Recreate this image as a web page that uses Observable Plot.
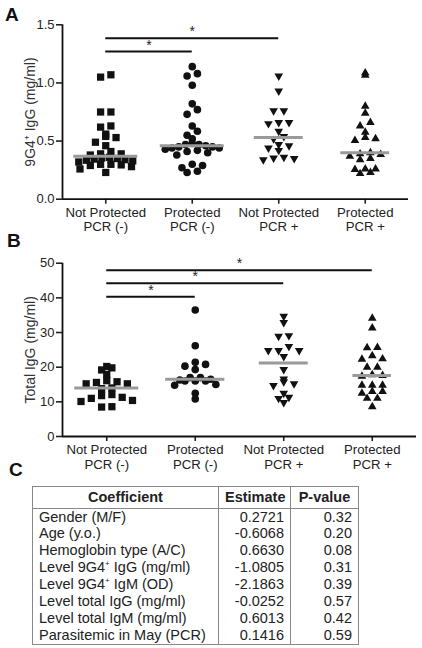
<!DOCTYPE html>
<html><head><meta charset="utf-8">
<script src="https://cdn.jsdelivr.net/npm/d3@7"></script>
<script src="https://cdn.jsdelivr.net/npm/@observablehq/plot@0.6"></script>
<style>
body{margin:0;width:422px;height:648px;position:relative;background:#fff;font-family:"Liberation Sans",Arial,sans-serif;overflow:hidden}
.plabel{position:absolute;font-weight:bold;font-size:19px;color:#111;line-height:1;z-index:5}
#chartA{position:absolute;left:0;top:0}
#chartB{position:absolute;left:0;top:240px}
table{position:absolute;left:32px;top:486px;border-collapse:collapse;font-size:14.5px;color:#222;table-layout:fixed;width:326px;border:1px solid #888}
td,th{border-left:1px solid #888;border-right:1px solid #888;padding:0 6px;height:16.9px;line-height:16.9px;white-space:nowrap}
th{border-bottom:1px solid #888;height:20.5px;line-height:20.5px;text-align:center}
td.num{text-align:right}
sup{font-size:8px;line-height:0;vertical-align:6px}
</style></head>
<body>
<div id="chartA"></div>
<div id="chartB"></div>
<div id="tbl"></div>
<div class="plabel" style="left:5px;top:5px">A</div>
<div class="plabel" style="left:7px;top:231px">B</div>
<div class="plabel" style="left:9px;top:460px">C</div>
<script>
// ---------- data ----------
const categories = ["Not Protected\nPCR (-)", "Protected\nPCR (-)", "Not Protected\nPCR +", "Protected\nPCR +"];

// Panel A: 9G4+ IgG (mg/ml)
const a_notProtPcrNeg = [1.07, 1.05, 0.75, 0.75, 0.63, 0.62, 0.56, 0.54, 0.53, 0.49, 0.46, 0.41, 0.39, 0.39, 0.38, 0.36, 0.355, 0.35, 0.345, 0.34, 0.335, 0.33, 0.32, 0.30, 0.30, 0.295, 0.29, 0.28, 0.26, 0.23];
const a_protPcrNeg = [1.14, 1.08, 1.06, 0.98, 0.82, 0.77, 0.73, 0.63, 0.585, 0.55, 0.52, 0.48, 0.47, 0.47, 0.46, 0.45, 0.45, 0.44, 0.44, 0.43, 0.42, 0.41, 0.40, 0.38, 0.30, 0.29, 0.27, 0.24, 0.23];
const a_notProtPcrPos = [1.06, 0.93, 0.76, 0.76, 0.66, 0.66, 0.65, 0.585, 0.54, 0.52, 0.47, 0.46, 0.44, 0.42, 0.36, 0.355, 0.35, 0.34];
const a_protPcrPos = [1.085, 1.065, 0.80, 0.74, 0.66, 0.63, 0.575, 0.53, 0.52, 0.505, 0.40, 0.39, 0.385, 0.37, 0.35, 0.34, 0.26, 0.26, 0.255, 0.23, 0.22];
const a_yTicks = [0, 0.5, 1.0, 1.5];
const a_sig = [{from: 0, to: 1, level: 1.27}, {from: 0, to: 2, level: 1.385}];

// Panel B: Total IgG (mg/ml)
const b_notProtPcrNeg = [20.2, 19.8, 19.2, 17.9, 16.1, 15.8, 15.6, 15.2, 15.2, 14.0, 13.8, 12.1, 11.8, 11.3, 11.0, 10.4, 10.1, 8.6, 8.5];
const b_protPcrNeg = [36.5, 26.2, 21.4, 20.8, 20.3, 19.3, 17.0, 17.0, 16.5, 16.3, 16.0, 16.0, 16.0, 15.0, 14.8, 12.5, 10.8];
const b_notProtPcrPos = [34.7, 32.9, 29.1, 28.9, 26.0, 24.8, 24.8, 24.8, 23.1, 19.3, 16.6, 15.8, 15.2, 14.7, 12.5, 11.3, 11.0, 9.8];
const b_protPcrPos = [34.1, 31.3, 25.7, 25.6, 23.3, 22.4, 22.3, 20.0, 20.0, 17.8, 17.6, 17.4, 14.8, 14.8, 14.8, 13.0, 13.0, 12.5, 11.0, 11.0, 8.6];
const b_yTicks = [0, 10, 20, 30, 40, 50];
const b_sig = [{from: 0, to: 1, level: 40.3}, {from: 0, to: 2, level: 44.2}, {from: 0, to: 3, level: 48.0}];

// Panel C: table
const coefNames = ["Gender (M/F)", "Age (y.o.)", "Hemoglobin type (A/C)", "Level 9G4⁺ IgG (mg/ml)", "Level 9G4⁺ IgM (OD)", "Level total IgG (mg/ml)", "Level total IgM (mg/ml)", "Parasitemic in May (PCR)"];
const estimates = [0.2721, -0.6068, 0.6630, -1.0805, -2.1863, -0.0252, 0.6013, 0.1416];
const pValues = [0.32, 0.20, 0.08, 0.31, 0.39, 0.57, 0.42, 0.59];

// ---------- styles ----------
const sqrt3 = Math.sqrt(3);
const triangleDown = {draw(ctx, size) {
  const y = -Math.sqrt(size / (sqrt3 * 3));
  ctx.moveTo(0, -y * 2); ctx.lineTo(-sqrt3 * y, y); ctx.lineTo(sqrt3 * y, y); ctx.closePath();
}};
const symStyle = [
  {symbol: "square", r: 4.1},
  {symbol: "circle", r: 3.8},
  {symbol: triangleDown, r: 3.2},
  {symbol: "triangle", r: 3.2}
];
const FONT = "Liberation Sans, Arial, sans-serif";

// beeswarm-like layout (GraphPad style rows)
function layout(groups, yMax, innerW, innerH) {
  const pxY = innerH / yMax, pxX = innerW / 4;
  const binH = 7, gap = 10.3, maxSpan = 54;
  const pts = [], meds = [];
  groups.forEach((vals, gi) => {
    const bins = d3.group(vals, v => Math.floor(v * pxY / binH));
    let maxOff = 0;
    for (const [, row] of bins) {
      const s = row.slice().sort(d3.ascending);
      const n = s.length;
      const order = [];
      for (let k = 0; k < n; k++) order.push(k % 2 === 0 ? k / 2 : n - 1 - (k - 1) / 2);
      const step = n > 1 ? Math.min(gap, maxSpan / (n - 1)) : 0;
      s.forEach((v, k) => {
        const off = (order[k] - (n - 1) / 2) * step;
        maxOff = Math.max(maxOff, Math.abs(off));
        pts.push({g: gi, x: gi + off / pxX, y: v});
      });
    }
    const half = Math.min(32, maxOff + 9);
    meds.push({x1: gi - half / pxX, x2: gi + half / pxX, y: d3.median(vals)});
  });
  return {pts, meds};
}

function panel({groups, yMax, yTicks, tickFmt, label, sig, height, mt, mb, mr}) {
  const W = 422, ml = 62;
  const innerW = W - ml - mr, innerH = height - mt - mb;
  const {pts, meds} = layout(groups, yMax, innerW, innerH);
  return Plot.plot({
    width: W, height, marginTop: mt, marginBottom: mb, marginLeft: ml, marginRight: mr,
    style: {fontFamily: FONT, fontSize: "13px", color: "#222", background: "transparent"},
    x: {domain: [-0.5, 3.5]},
    y: {domain: [0, yMax]},
    marks: [
      Plot.axisY({ticks: yTicks, tickFormat: tickFmt, tickSize: 6, tickPadding: 2, strokeWidth: 1.6, fontSize: 13, label: null}),
      Plot.axisX({ticks: [0, 1, 2, 3], tickSize: 5, strokeWidth: 1.6, tickFormat: () => "", label: null}),
      Plot.ruleY([0], {strokeWidth: 1.8, stroke: "#111"}),
      Plot.ruleX([-0.5], {strokeWidth: 1.8, stroke: "#111"}),
      Plot.text([label], {x: () => -0.5, y: () => yMax / 2, textAnchor: "middle", lineAnchor: "middle", rotate: -90, dx: -32, fontSize: 14, fill: "#333", text: d => d}),
      Plot.text(categories, {x: (d, i) => i, y: () => 0, text: d => d, dy: 7, lineAnchor: "top", lineHeight: 1.12, fontSize: 13.2, fill: "#222"}),
      ...groups.map((_, gi) => Plot.dot(pts.filter(p => p.g === gi), {x: "x", y: "y", symbol: symStyle[gi].symbol, r: symStyle[gi].r, fill: "#111", stroke: "none"})),
      Plot.ruleY(meds, {y: "y", x1: "x1", x2: "x2", stroke: "#9a9a9a", strokeWidth: 3}),
      Plot.ruleY(sig, {y: "level", x1: "from", x2: "to", stroke: "#111", strokeWidth: 2}),
      Plot.text(sig, {x: d => (d.from + d.to) / 2, y: "level", text: () => "*", dy: -2, lineAnchor: "bottom", fontSize: 14, fill: "#222"})
    ]
  });
}

document.getElementById("chartA").append(panel({
  groups: [a_notProtPcrNeg, a_protPcrNeg, a_notProtPcrPos, a_protPcrPos],
  yMax: 1.5, yTicks: a_yTicks, tickFmt: d3.format(".1f"), label: "9G4⁺ IgG (mg/ml)",
  sig: a_sig, height: 235, mt: 24.3, mb: 36.3, mr: 14
}));
document.getElementById("chartB").append(panel({
  groups: [b_notProtPcrNeg, b_protPcrNeg, b_notProtPcrPos, b_protPcrPos],
  yMax: 50, yTicks: b_yTicks, tickFmt: d3.format("d"), label: "Total IgG (mg/ml)",
  sig: b_sig, height: 232, mt: 22.7, mb: 36, mr: 6
}));

// table
const table = document.createElement("table");
const cg = document.createElement("colgroup");
[186, 72, 68].forEach(w => { const c = document.createElement("col"); c.style.width = w + "px"; cg.append(c); });
table.append(cg);
const hr = table.insertRow();
["Coefficient", "Estimate", "P-value"].forEach(h => { const th = document.createElement("th"); th.textContent = h; hr.append(th); });
coefNames.forEach((name, i) => {
  const tr = table.insertRow();
  const c0 = tr.insertCell();
  name.split("⁺").forEach((part, k) => {
    if (k > 0) { const s = document.createElement("sup"); s.textContent = "+"; c0.append(s); }
    c0.append(document.createTextNode(part));
  });
  const c1 = tr.insertCell(); c1.className = "num"; c1.textContent = estimates[i].toFixed(4);
  const c2 = tr.insertCell(); c2.className = "num"; c2.textContent = pValues[i].toFixed(2);
});
document.getElementById("tbl").append(table);
</script>
</body></html>
